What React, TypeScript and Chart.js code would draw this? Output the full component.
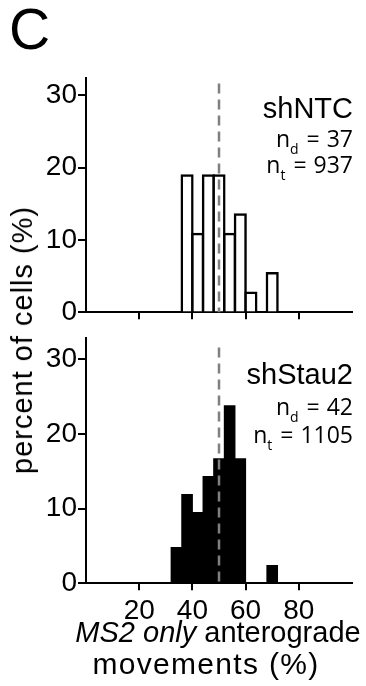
import React, { useEffect, useRef } from "react";
import { Chart, registerables } from "chart.js";

Chart.register(...registerables);

// ---- data ----
const binWidth = 4;
const binStartsNTC = [36, 40, 44, 48, 52, 56, 60, 68];
const percentNTC = [18.9, 10.8, 18.9, 18.9, 10.8, 13.5, 2.7, 5.4];
const binStartsStau2 = [32, 36, 40, 44, 48, 52, 56, 68];
const percentStau2 = [4.8, 11.9, 9.5, 14.3, 16.7, 23.8, 16.7, 2.4];
const xTickValues = [20, 40, 60, 80];
const yTickValues = [0, 10, 20, 30];
const referenceLine = 50;
const panelNames = ["shNTC", "shStau2"];
const nCells = [37, 42];
const nTracks = [937, 1105];
const yAxisTitle = "percent of cells (%)";
const xTitleItalic = "MS2 only";
const xTitleRest = " anterograde";
const xTitleLine2 = "movements (%)";
const panelLetter = "C";

const SANS = "'Liberation Sans', Arial, sans-serif";

type PanelCfg = {
  starts: number[];
  values: number[];
  fill: string;
  borderWidth: number;
  inflate: number;
  yMax: number;
  padTop: number;
  xHeight: number;
  showXLabels: boolean;
  name: string;
  nd: number;
  nt: number;
  textYs: number[];
};

function drawSubText(
  ctx: CanvasRenderingContext2D,
  right: number,
  baseline: number,
  sub: string,
  value: number
) {
  const mainFont = "23px 'Open Sans', sans-serif";
  const subFont = "14px 'Open Sans', sans-serif";
  ctx.font = mainFont;
  const wN = ctx.measureText("n").width;
  const eq = " = ";
  const wEq = ctx.measureText(eq).width + 2;
  const val = String(value);
  const wVal = ctx.measureText(val).width;
  ctx.font = subFont;
  const wSub = ctx.measureText(sub).width + 1;
  const start = right - (wN + wSub + wEq + wVal);
  ctx.textAlign = "left";
  ctx.textBaseline = "alphabetic";
  ctx.fillStyle = "#000";
  ctx.font = mainFont;
  ctx.fillText("n", start, baseline);
  ctx.font = subFont;
  ctx.fillText(sub, start + wN, baseline + 7);
  ctx.font = mainFont;
  ctx.fillText(eq, start + wN + wSub + 1, baseline);
  ctx.fillText(val, start + wN + wSub + wEq, baseline);
}

function makeConfig(p: PanelCfg): any {
  const decor = {
    id: "panelDecor",
    afterDatasetsDraw(chart: any) {
      const { ctx, scales } = chart;
      const x = scales.x;
      const y = scales.y;
      const px = x.getPixelForValue(referenceLine);
      ctx.save();
      ctx.strokeStyle = "#808080";
      ctx.lineWidth = 2.5;
      ctx.setLineDash([10, 6]);
      ctx.beginPath();
      ctx.moveTo(px, y.getPixelForValue(31.6));
      ctx.lineTo(px, y.getPixelForValue(0));
      ctx.stroke();
      ctx.restore();
    },
    afterDraw(chart: any) {
      const { ctx, chartArea, scales } = chart;
      const y = scales.y;
      const right = chartArea.right + 1;
      ctx.save();
      ctx.fillStyle = "#000";
      ctx.font = "29px " + SANS;
      ctx.textAlign = "right";
      ctx.textBaseline = "alphabetic";
      ctx.fillText(p.name, right, y.getPixelForValue(p.textYs[0]));
      drawSubText(ctx, right, y.getPixelForValue(p.textYs[1]), "d", p.nd);
      drawSubText(ctx, right, y.getPixelForValue(p.textYs[2]), "t", p.nt);
      ctx.restore();
    },
  };

  return {
    type: "bar",
    data: {
      datasets: [
        {
          data: p.starts.map((s, i) => ({ x: s + binWidth / 2, y: p.values[i] })),
          backgroundColor: p.fill,
          borderColor: "#000",
          borderWidth: p.borderWidth,
          borderSkipped: "start",
          inflateAmount: p.inflate,
          barPercentage: 1,
          categoryPercentage: 1,
        },
      ],
    },
    options: {
      responsive: false,
      animation: false,
      devicePixelRatio: 1,
      layout: { padding: { top: p.padTop, right: 14, left: 0, bottom: 0 } },
      plugins: { legend: { display: false }, tooltip: { enabled: false } },
      scales: {
        x: {
          type: "linear",
          min: 0,
          max: 100,
          offset: false,
          z: 1,
          afterBuildTicks: (s: any) => {
            s.ticks = xTickValues.map((v) => ({ value: v }));
          },
          afterFit: (s: any) => {
            s.height = p.xHeight;
          },
          ticks: {
            display: p.showXLabels,
            autoSkip: false,
            maxRotation: 0,
            padding: 4,
            color: "#000",
            font: { family: SANS, size: 28 },
          },
          grid: {
            display: true,
            offset: false,
            drawOnChartArea: false,
            drawTicks: true,
            tickLength: 7,
            tickColor: "#000",
            tickWidth: 2,
            lineWidth: 2,
            color: "#000",
          },
          border: { display: true, color: "#000", width: 2 },
        },
        y: {
          type: "linear",
          min: 0,
          max: p.yMax,
          z: 1,
          afterBuildTicks: (s: any) => {
            s.ticks = yTickValues.map((v) => ({ value: v }));
          },
          afterFit: (s: any) => {
            s.width = 86;
          },
          ticks: {
            padding: 1,
            color: "#000",
            font: { family: SANS, size: 28 },
          },
          grid: {
            display: true,
            drawOnChartArea: false,
            drawTicks: true,
            tickLength: 8,
            tickColor: "#000",
            tickWidth: 2,
            lineWidth: 2,
            color: "#000",
          },
          border: { display: true, color: "#000", width: 2 },
        },
      },
    },
    plugins: [decor],
  };
}

function Panel(props: { cfg: PanelCfg; top: number; height: number }) {
  const ref = useRef<HTMLCanvasElement | null>(null);
  useEffect(() => {
    if (!ref.current) return;
    const chart = new Chart(ref.current, makeConfig(props.cfg));
    return () => chart.destroy();
  }, []);
  return (
    <canvas
      ref={ref}
      width={366}
      height={props.height}
      style={{ position: "absolute", left: 0, top: props.top, width: 366, height: props.height }}
    />
  );
}

export default function App() {
  const topCfg: PanelCfg = {
    starts: binStartsNTC,
    values: percentNTC,
    fill: "#ffffff",
    borderWidth: 2.5,
    inflate: 1.25,
    yMax: 32.4,
    padTop: 10,
    xHeight: 13.3,
    showXLabels: false,
    name: panelNames[0],
    nd: nCells[0],
    nt: nTracks[0],
    textYs: [26.8, 22.8, 19.3],
  };
  const bottomCfg: PanelCfg = {
    starts: binStartsStau2,
    values: percentStau2,
    fill: "#000000",
    borderWidth: 0,
    inflate: 0.5,
    yMax: 32.9,
    padTop: 15,
    xHeight: 36.7,
    showXLabels: true,
    name: panelNames[1],
    nd: nCells[1],
    nt: nTracks[1],
    textYs: [26.7, 22.5, 18.75],
  };
  return (
    <div
      style={{
        position: "fixed",
        left: 0,
        top: 0,
        width: 366,
        height: 686,
        background: "#fff",
        overflow: "hidden",
        fontFamily: SANS,
        color: "#000",
      }}
    >
      <Panel cfg={topCfg} top={60} height={270} />
      <Panel cfg={bottomCfg} top={320} height={300} />
      <div style={{ position: "absolute", left: 9, top: 1, fontSize: 57, lineHeight: "57px" }}>
        {panelLetter}
      </div>
      <div
        style={{
          position: "absolute",
          left: 22,
          top: 340,
          fontSize: 29,
          lineHeight: "34px",
          letterSpacing: 1.0,
          whiteSpace: "nowrap",
          transform: "translate(-50%, -50%) rotate(-90deg)",
        }}
      >
        {yAxisTitle}
      </div>
      <div
        style={{
          position: "absolute",
          left: 218,
          top: 616,
          fontSize: 29,
          lineHeight: "32px",
          whiteSpace: "nowrap",
          transform: "translateX(-50%)",
        }}
      >
        <i>{xTitleItalic}</i>
        {xTitleRest}
      </div>
      <div
        style={{
          position: "absolute",
          left: 206,
          top: 648,
          fontSize: 30,
          lineHeight: "32px",
          letterSpacing: 1.3,
          whiteSpace: "nowrap",
          transform: "translateX(-50%)",
        }}
      >
        {xTitleLine2}
      </div>
    </div>
  );
}
